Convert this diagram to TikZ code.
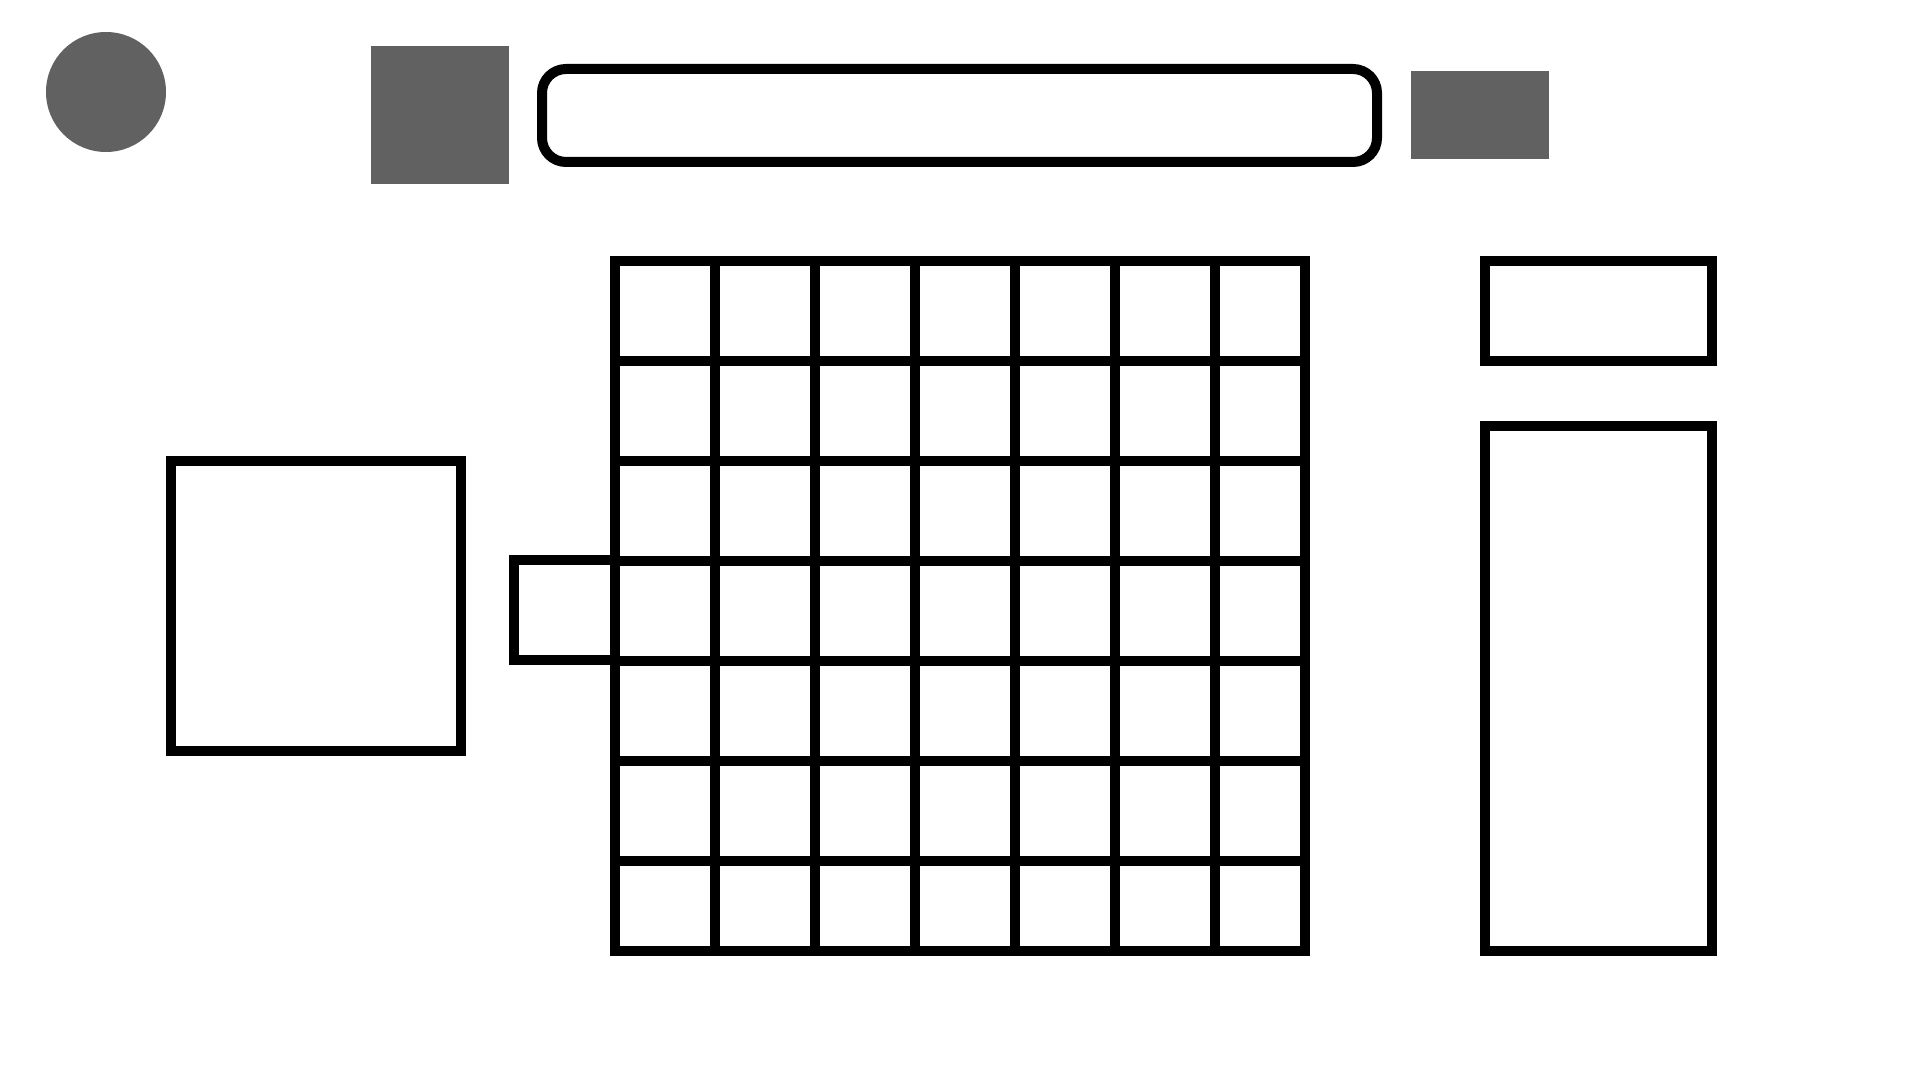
\documentclass[tikz,border=0pt]{standalone}
\usepackage{tikz}

\begin{document}
\begin{tikzpicture}[x=0.75pt,y=0.75pt,yscale=-1,xscale=1]
%set diagram left start at 0, and has height of 1080
\useasboundingbox (0,0) rectangle (1920,1080);

%Shape: Circle [id:dp3390817264519602] 
\draw  [draw opacity=0][fill={rgb, 255:red, 97; green, 97; blue, 97 }  ,fill opacity=1 ] (46,92) .. controls (46,58.86) and (72.86,32) .. (106,32) .. controls (139.14,32) and (166,58.86) .. (166,92) .. controls (166,125.14) and (139.14,152) .. (106,152) .. controls (72.86,152) and (46,125.14) .. (46,92) -- cycle ;
%Shape: Rectangle [id:dp6624197210483511] 
\draw  [draw opacity=0][fill={rgb, 255:red, 97; green, 97; blue, 97 }  ,fill opacity=1 ] (371,46) -- (509,46) -- (509,184) -- (371,184) -- cycle ;
%Rounded Rect [id:dp0518293746128834] 
\draw  [line width=7.5]  (542,93) .. controls (542,79.75) and (552.75,69) .. (566,69) -- (1353,69) .. controls (1366.25,69) and (1377,79.75) .. (1377,93) -- (1377,138) .. controls (1377,151.25) and (1366.25,162) .. (1353,162) -- (566,162) .. controls (552.75,162) and (542,151.25) .. (542,138) -- cycle ;
%Shape: Rectangle [id:dp9140271553608237] 
\draw  [draw opacity=0][fill={rgb, 255:red, 97; green, 97; blue, 97 }  ,fill opacity=1 ] (1411,71) -- (1549,71) -- (1549,159) -- (1411,159) -- cycle ;

%Shape: Square [id:dp2748801639150273] 
\draw  [line width=7.5]  (171,461) -- (461,461) -- (461,751) -- (171,751) -- cycle ;
%Shape: Square [id:dp7361905518822046] 
\draw  [line width=7.5]  (514,560) -- (615,560) -- (615,660) -- (514,660) -- cycle ;

%Shape: Grid [id:dp4085129937614452] 
\draw  [line width=7.5]  (715,261) -- (715,951)(815,261) -- (815,951)(915,261) -- (915,951)(1015,261) -- (1015,951)(1115,261) -- (1115,951)(1215,261) -- (1215,951) ;
\draw  [line width=7.5]  (615,361) -- (1305,361)(615,461) -- (1305,461)(615,561) -- (1305,561)(615,661) -- (1305,661)(615,761) -- (1305,761)(615,861) -- (1305,861) ;
\draw  [line width=7.5]  (615,261) -- (1305,261) -- (1305,951) -- (615,951) -- cycle ;

%Shape: Rectangle [id:dp1873354092640021] 
\draw  [line width=7.5]  (1485,261) -- (1712,261) -- (1712,361) -- (1485,361) -- cycle ;
%Shape: Rectangle [id:dp5530962718404497] 
\draw  [line width=7.5]  (1485,426) -- (1712,426) -- (1712,951) -- (1485,951) -- cycle ;

\end{tikzpicture}
\end{document}
